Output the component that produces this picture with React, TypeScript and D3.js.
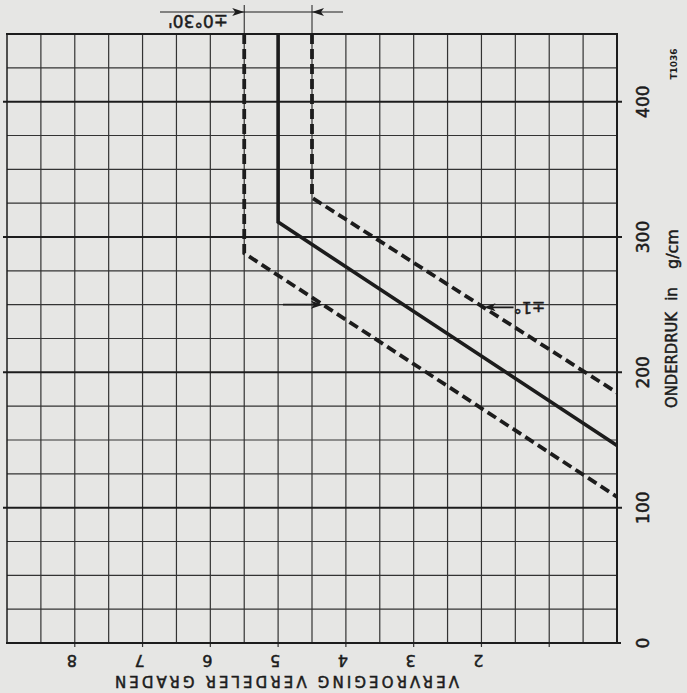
import React, { useEffect } from "react";
import * as d3 from "d3";

const W = 687;
const H = 693;

const degreeTicks = [8, 7, 6, 5, 4, 3, 2];
const pressureTicks = [0, 100, 200, 300, 400];
const degreeDomain = [9, 0];
const pressureDomain = [0, 450];

type Pt = { deg: number; p: number };
const nominal: Pt[] = [
  { deg: 5, p: 450 },
  { deg: 5, p: 311 },
  { deg: 0, p: 146 },
];
const upperTol: Pt[] = [
  { deg: 4.5, p: 450 },
  { deg: 4.5, p: 329 },
  { deg: 0, p: 185 },
];
const lowerTol: Pt[] = [
  { deg: 5.5, p: 450 },
  { deg: 5.5, p: 288 },
  { deg: 0, p: 108 },
];

const xTitle = "VERVROEGING VERDELER GRADEN";
const yTitleParts = ["ONDERDRUK", "in", "g/cm"];
const tolTop = "±0°30'";
const tolSide = "±1°";
const drawingNo = "T1036";

const INK = "#1c1c1c";
const GRID = "#333333";
const PAPER = "#e6e6e4";
const FONT = "'DejaVu Sans', 'Liberation Sans', sans-serif";

export default function App() {
  useEffect(() => {
    document.body.style.margin = "0";
    document.body.style.background = PAPER;
  }, []);

  const left = 7, right = 617, top = 34, bottom = 643;
  const x = d3.scaleLinear().domain(degreeDomain).range([left, right]);
  const y = d3.scaleLinear().domain(pressureDomain).range([bottom, top]);
  const line = d3.line<Pt>().x((d) => x(d.deg)).y((d) => y(d.p));

  const vGrid = d3.range(0.5, 9, 0.5);
  const hGrid = d3.range(25, 450, 25);

  const degAt = (s: Pt[], p: number) => {
    const a = s[1], b = s[2];
    return a.deg + ((p - a.p) * (b.deg - a.deg)) / (b.p - a.p);
  };
  const leftArrowP = 250;
  const rightArrowP = 248;
  const lTipX = x(degAt(lowerTol, leftArrowP));
  const lTipY = y(leftArrowP);
  const rTipX = x(degAt(upperTol, rightArrowP));
  const rTipY = y(rightArrowP);

  const arrowRight = (tx: number, ty: number) =>
    `M${tx},${ty} L${tx - 12},${ty - 4} L${tx - 9},${ty} L${tx - 12},${ty + 4} Z`;
  const arrowLeft = (tx: number, ty: number) =>
    `M${tx},${ty} L${tx + 12},${ty - 4} L${tx + 9},${ty} L${tx + 12},${ty + 4} Z`;

  const dimY = 12;
  const xA = x(5.5);
  const xB = x(4.5);
  const bold = { stroke: INK, strokeWidth: 0.5 };

  return (
    <svg width={W} height={H} style={{ display: "block", background: PAPER }} fontFamily={FONT}>
      <rect x={0} y={0} width={W} height={H} fill={PAPER} />

      {vGrid.map((v) => (
        <line key={"v" + v} x1={x(v)} x2={x(v)} y1={top} y2={Number.isInteger(v) ? bottom + 4 : bottom}
          stroke={GRID} strokeWidth={1.2} />
      ))}
      {hGrid.map((p) => {
        const major = p % 100 === 0;
        return (
          <line key={"h" + p} x1={major ? left - 4 : left} x2={major ? right + 5 : right} y1={y(p)} y2={y(p)}
            stroke={major ? INK : GRID} strokeWidth={major ? 2 : 1.2} />
        );
      })}
      <line x1={left} x2={left} y1={top} y2={bottom} stroke={INK} strokeWidth={1.5} />
      <line x1={right} x2={right} y1={top} y2={bottom + 1} stroke={INK} strokeWidth={2} />
      <line x1={left - 1} x2={right + 1} y1={top} y2={top} stroke={INK} strokeWidth={2} />
      <line x1={left - 1} x2={right + 4} y1={bottom} y2={bottom} stroke={INK} strokeWidth={2} />

      <path d={line(lowerTol) || ""} fill="none" stroke={INK} strokeWidth={3.8} strokeDasharray="10 5" />
      <path d={line(upperTol) || ""} fill="none" stroke={INK} strokeWidth={3.8} strokeDasharray="10 5" />
      <path d={line(nominal) || ""} fill="none" stroke={INK} strokeWidth={3.6} />

      <line x1={lTipX - 40} x2={lTipX - 8} y1={lTipY} y2={lTipY} stroke={INK} strokeWidth={1.8} />
      <path d={arrowRight(lTipX, lTipY)} fill={INK} />
      <line x1={rTipX + 8} x2={rTipX + 30} y1={rTipY} y2={rTipY} stroke={INK} strokeWidth={1.8} />
      <path d={arrowLeft(rTipX, rTipY)} fill={INK} />
      <text x={rTipX + 46} y={rTipY} transform={`rotate(180, ${rTipX + 46}, ${rTipY})`}
        textAnchor="middle" dominantBaseline="central" fontSize={16} fill={INK} {...bold}>{tolSide}</text>

      <line x1={xA} x2={xA} y1={5} y2={top} stroke={INK} strokeWidth={1} />
      <line x1={xB} x2={xB} y1={5} y2={top} stroke={INK} strokeWidth={1} />
      <line x1={160} x2={343} y1={dimY} y2={dimY} stroke={INK} strokeWidth={1.2} />
      <path d={arrowRight(xA, dimY)} fill={INK} />
      <path d={arrowLeft(xB, dimY)} fill={INK} />
      <text x={198} y={21} transform={`rotate(180, 198, 21)`} textAnchor="middle" dominantBaseline="central"
        fontSize={17} fill={INK} {...bold}>{tolTop}</text>

      {degreeTicks.map((v) => (
        <text key={"dl" + v} x={x(v) - 3} y={660} transform={`rotate(180, ${x(v) - 3}, 660)`}
          textAnchor="middle" dominantBaseline="central" fontSize={16} fill={INK} {...bold}>{v}</text>
      ))}
      <text x={287} y={681} transform="rotate(180, 287, 681)" textAnchor="middle" dominantBaseline="central"
        fontSize={15} fill={INK} textLength={344} lengthAdjust="spacing" {...bold}>{xTitle}</text>

      {pressureTicks.map((p) => (
        <text key={"pl" + p} x={643} y={y(p)} transform={`rotate(-90, 643, ${y(p)})`}
          textAnchor="middle" dominantBaseline="central" fontSize={17} fill={INK} {...bold}>{p}</text>
      ))}
      <text x={672} y={360} transform="rotate(-90, 672, 360)" textAnchor="middle" dominantBaseline="central"
        fontSize={15} fill={INK} textLength={96} lengthAdjust="spacingAndGlyphs" {...bold}>{yTitleParts[0]}</text>
      <text x={672} y={294} transform="rotate(-90, 672, 294)" textAnchor="middle" dominantBaseline="central"
        fontSize={15} fill={INK} {...bold}>{yTitleParts[1]}</text>
      <text x={672} y={249} transform="rotate(-90, 672, 249)" textAnchor="middle" dominantBaseline="central"
        fontSize={16} fill={INK} {...bold}>{yTitleParts[2]}</text>
      <text x={674} y={64} transform="rotate(-90, 674, 64)" textAnchor="middle" dominantBaseline="central"
        fontSize={9} fontWeight="bold" fill={INK}>{drawingNo}</text>
    </svg>
  );
}
